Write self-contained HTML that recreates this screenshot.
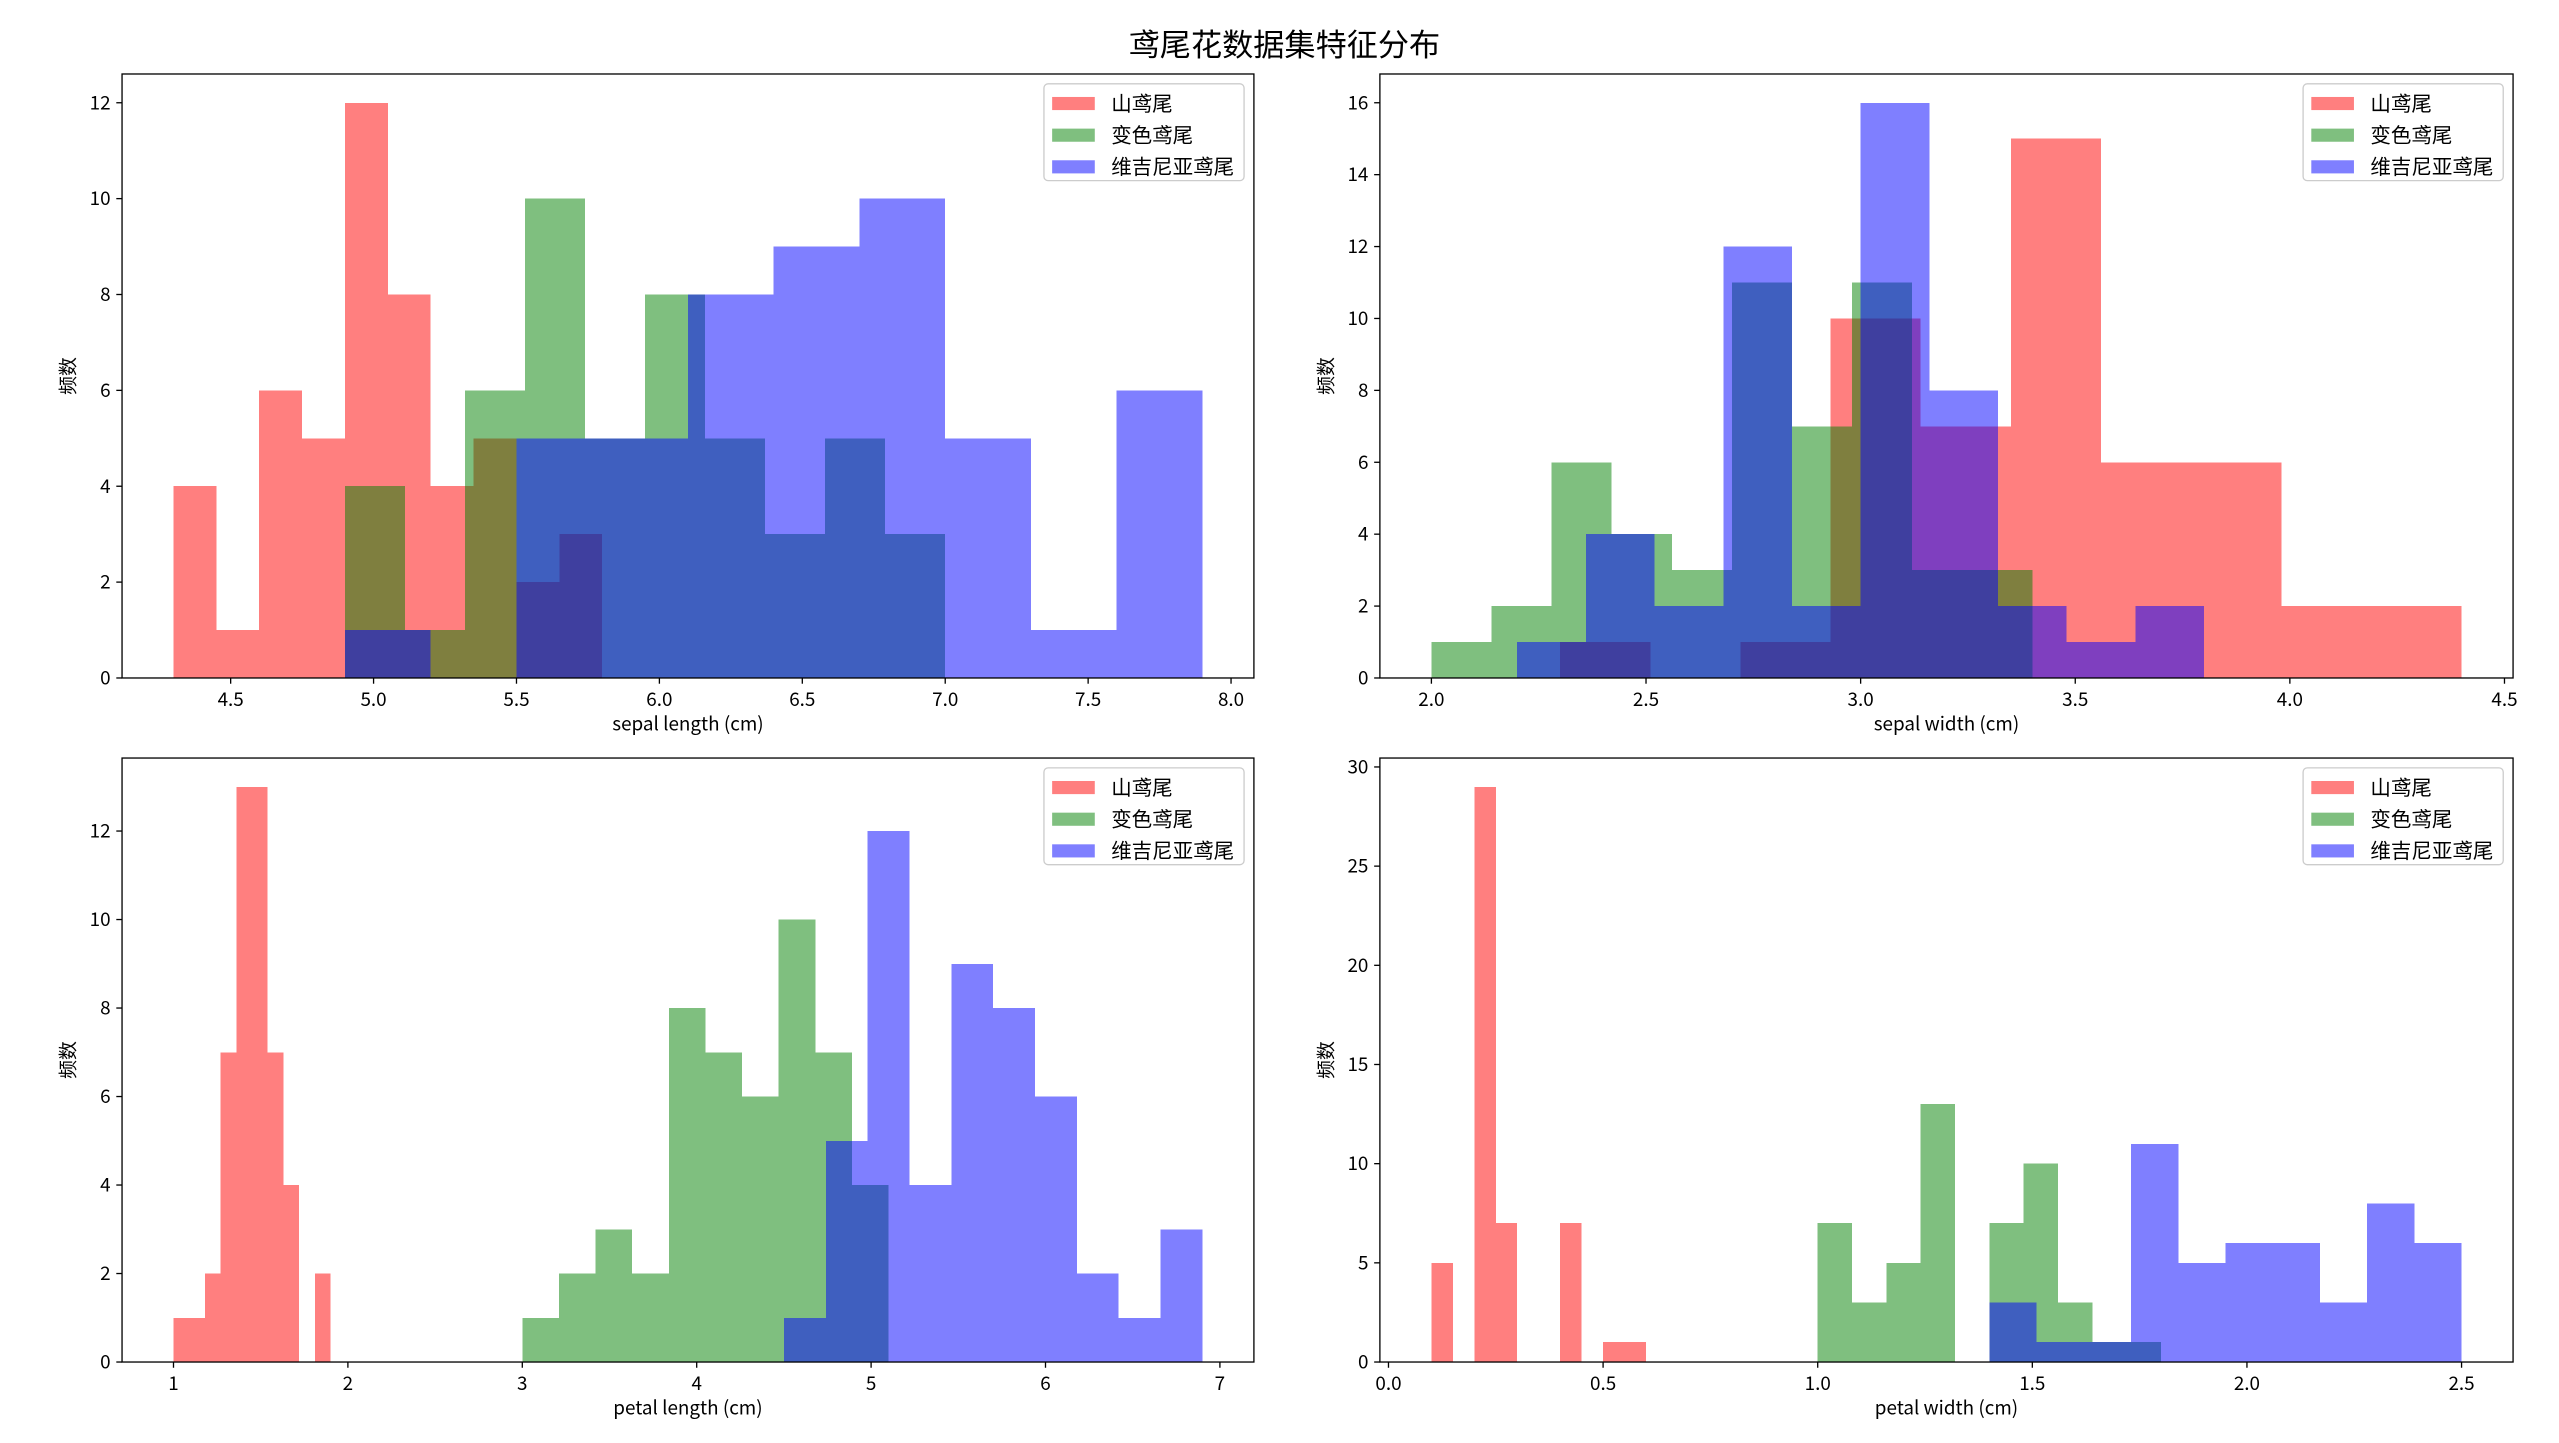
<!DOCTYPE html>
<html><head><meta charset="utf-8"><style>
html,body{margin:0;padding:0;background:#fff;}
svg{display:block;font-family:"Liberation Sans","Noto Sans CJK SC",sans-serif;}
</style></head><body>
<svg id="chart" width="2559" height="1443" viewBox="0 0 1560 879.66" xmlns="http://www.w3.org/2000/svg">
<rect width="1560" height="880" fill="#fff"/>
<text x="783" y="34" font-size="19" text-anchor="middle" font-family="Noto Sans CJK SC, sans-serif">鸢尾花数据集特征分布</text>
</svg>
<script>
// ---- data ----
const speciesNames = ["山鸢尾", "变色鸢尾", "维吉尼亚鸢尾"];
const featureLabels = ["sepal length (cm)", "sepal width (cm)", "petal length (cm)", "petal width (cm)"];
// bin range [min, max] per species, 10 bins each
const sepalLengthRanges = [[4.3, 5.8], [4.9, 7.0], [4.9, 7.9]];
const sepalLengthSetosa = [4, 1, 6, 5, 12, 8, 4, 5, 2, 3];
const sepalLengthVersicolor = [4, 1, 6, 10, 5, 8, 5, 3, 5, 3];
const sepalLengthVirginica = [1, 0, 5, 5, 8, 9, 10, 5, 1, 6];
const sepalWidthRanges = [[2.3, 4.4], [2.0, 3.4], [2.2, 3.8]];
const sepalWidthSetosa = [1, 0, 1, 10, 7, 15, 6, 6, 2, 2];
const sepalWidthVersicolor = [1, 2, 6, 4, 3, 11, 7, 11, 3, 3];
const sepalWidthVirginica = [1, 4, 2, 12, 2, 16, 8, 2, 1, 2];
const petalLengthRanges = [[1.0, 1.9], [3.0, 5.1], [4.5, 6.9]];
const petalLengthSetosa = [1, 1, 2, 7, 13, 13, 7, 4, 0, 2];
const petalLengthVersicolor = [1, 2, 3, 2, 8, 7, 6, 10, 7, 4];
const petalLengthVirginica = [1, 5, 12, 4, 9, 8, 6, 2, 1, 3];
const petalWidthRanges = [[0.1, 0.6], [1.0, 1.8], [1.4, 2.5]];
const petalWidthSetosa = [5, 0, 29, 7, 0, 0, 7, 0, 1, 1];
const petalWidthVersicolor = [7, 3, 5, 13, 0, 7, 10, 3, 1, 1];
const petalWidthVirginica = [3, 1, 1, 11, 5, 6, 6, 3, 8, 6];
const xTicks1 = [4.5, 5.0, 5.5, 6.0, 6.5, 7.0, 7.5, 8.0];
const yTicks1 = [0, 2, 4, 6, 8, 10, 12];
const xTicks2 = [2.0, 2.5, 3.0, 3.5, 4.0, 4.5];
const yTicks2 = [0, 2, 4, 6, 8, 10, 12, 14, 16];
const xTicks3 = [1, 2, 3, 4, 5, 6, 7];
const yTicks3 = [0, 2, 4, 6, 8, 10, 12];
const xTicks4 = [0.0, 0.5, 1.0, 1.5, 2.0, 2.5];
const yTicks4 = [0, 5, 10, 15, 20, 25, 30];

const colors = ["#ff0000", "#008000", "#0000ff"];
const NS = "http://www.w3.org/2000/svg";
const svg = document.getElementById("chart");
function mk(tag, attrs, parent) {
  const e = document.createElementNS(NS, tag);
  for (const k in attrs) e.setAttribute(k, attrs[k]);
  (parent || svg).appendChild(e);
  return e;
}
const panels = [
  {box:[74.4,45.1,764.4,413.3], xd:[4.12,8.08], yd:[0,12.6], xt:xTicks1, yt:yTicks1, dec:1, ranges:sepalLengthRanges, series:[sepalLengthSetosa, sepalLengthVersicolor, sepalLengthVirginica], label:featureLabels[0], key:"sepal-length"},
  {box:[841.2,45.1,1532,413.3], xd:[1.88,4.52], yd:[0,16.8], xt:xTicks2, yt:yTicks2, dec:1, ranges:sepalWidthRanges, series:[sepalWidthSetosa, sepalWidthVersicolor, sepalWidthVirginica], label:featureLabels[1], key:"sepal-width"},
  {box:[74.4,462.1,764.4,830.3], xd:[0.705,7.195], yd:[0,13.65], xt:xTicks3, yt:yTicks3, dec:0, ranges:petalLengthRanges, series:[petalLengthSetosa, petalLengthVersicolor, petalLengthVirginica], label:featureLabels[2], key:"petal-length"},
  {box:[841.2,462.1,1532,830.3], xd:[-0.02,2.62], yd:[0,30.45], xt:xTicks4, yt:yTicks4, dec:1, ranges:petalWidthRanges, series:[petalWidthSetosa, petalWidthVersicolor, petalWidthVirginica], label:featureLabels[3], key:"petal-width"}
];
const tickFont = "Noto Sans CJK SC, sans-serif";
panels.forEach((p) => {
  const [L,T,R,B] = p.box;
  const g = mk("g", {});
  
  
  const X = v => L + (v - p.xd[0]) / (p.xd[1] - p.xd[0]) * (R - L);
  const Y = v => B - (v - p.yd[0]) / (p.yd[1] - p.yd[0]) * (B - T);
  p.series.forEach((counts, si) => {
    const [mn, mx] = p.ranges[si];
    const w = (mx - mn) / counts.length;
    counts.forEach((c, i) => {
      if (c <= 0) return;
      const x0 = X(mn + i * w), x1 = X(mn + (i + 1) * w);
      const r = mk("rect", {x:x0, y:Y(c), width:x1 - x0, height:Y(0) - Y(c), fill:colors[si], "fill-opacity":0.5, "shape-rendering":"crispEdges"}, g);
      
      
    });
  });
  const frame = mk("rect", {x:L, y:T, width:R-L, height:B-T, fill:"none", stroke:"#000", "stroke-width":0.8}, g);
  
  
  p.xt.forEach(v => {
    const x = X(v);
    mk("line", {x1:x, y1:B, x2:x, y2:B+3.5, stroke:"#000", "stroke-width":0.8}, g);
    const t = mk("text", {x:x, y:B+17, "font-size":11.5, "text-anchor":"middle", "font-family":tickFont}, g);
    t.textContent = v.toFixed(p.dec);
    
    
  });
  p.yt.forEach(v => {
    const y = Y(v);
    mk("line", {x1:L, y1:y, x2:L-3.5, y2:y, stroke:"#000", "stroke-width":0.8}, g);
    const t = mk("text", {x:L-7, y:y+4, "font-size":11.5, "text-anchor":"end", "font-family":tickFont}, g);
    t.textContent = v;
    
    
  });
  const xl = mk("text", {x:(L+R)/2, y:B+32, "font-size":11.5, "text-anchor":"middle", "font-family":tickFont}, g);
  xl.textContent = p.label;
  
  
  const yx = L - 29, yy = (T + B) / 2;
  const yl = mk("text", {x:yx, y:yy, "font-size":11.5, "text-anchor":"middle", "font-family":tickFont, transform:`rotate(-90 ${yx} ${yy})`}, g);
  yl.textContent = "频数";
  
  
  // legend
  const lg = mk("g", {}, g);
  
  
  const lx = R - 128, ly = T + 6;
  mk("rect", {x:lx, y:ly, width:122, height:59, rx:2.5, fill:"#fff", "fill-opacity":0.8, stroke:"#ccc", "stroke-width":0.8}, lg);
  speciesNames.forEach((n, i) => {
    const ry = ly + 12 + i * 19.3;
    const pr = mk("rect", {x:lx+5, y:ry-4, width:26, height:8, fill:colors[i], "fill-opacity":0.5}, lg);
    
    
    const tx = mk("text", {x:lx+41, y:ry+4.5, "font-size":12.5, "font-family":tickFont}, lg);
    tx.textContent = n;
    
    
  });
});
</script>
</body></html>
